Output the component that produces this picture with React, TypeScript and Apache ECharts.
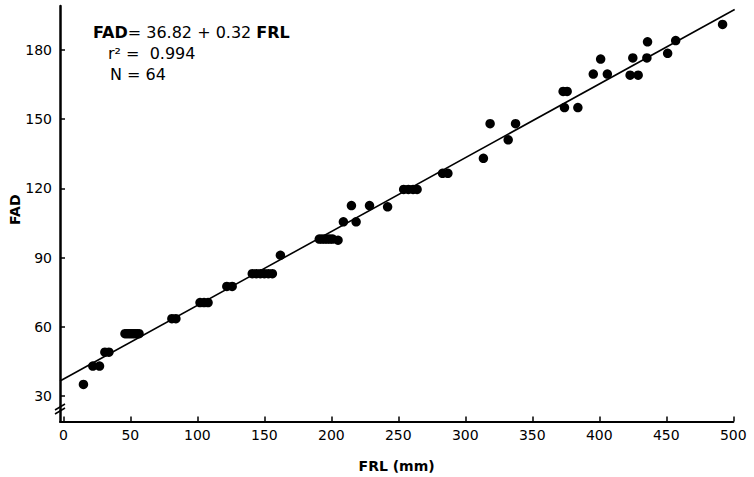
import React, { useEffect, useRef } from "react";
import * as echarts from "echarts";

// FRL (mm) values of the 64 fish
const frl = [
  15, 22, 27, 31, 34,
  46, 47.5, 49, 50.5, 52, 53.5, 55, 56.5,
  81, 84, 102, 105, 108, 122, 126,
  141, 144, 147, 150, 153, 156, 162,
  191, 193, 195, 197, 199, 201, 205,
  209, 215, 218.5, 228.5, 242,
  254, 257.5, 261, 264, 283, 287,
  313.5, 318.5, 332, 337.5,
  373, 376, 374, 384,
  395.5, 401, 406, 423, 429, 425, 435.5, 436, 451, 457, 492,
];
// FAD values (same order)
const fad = [
  35, 43, 43, 49, 49,
  57, 57, 57, 57, 57, 57, 57, 57,
  63.5, 63.5, 70.5, 70.5, 70.5, 77.5, 77.5,
  83, 83, 83, 83, 83, 83, 91,
  98, 98, 98, 98, 98, 98, 97.5,
  105.5, 112.5, 105.5, 112.5, 112,
  119.5, 119.5, 119.5, 119.5, 126.5, 126.5,
  133, 148, 141, 148,
  162, 162, 155, 155,
  169.5, 176, 169.5, 169, 169, 176.5, 176.5, 183.5, 178.5, 184, 191,
];
const xTicks = [0, 50, 100, 150, 200, 250, 300, 350, 400, 450, 500];
const yTicks = [30, 60, 90, 120, 150, 180];
// regression line end points
const fitX = [-2.5, 501];
const fitY = [36.5, 197.5];

const FONT = "DejaVu Sans";

export default function App() {
  const ref = useRef<HTMLDivElement>(null);
  useEffect(() => {
    const chart = echarts.init(ref.current!, null, { renderer: "svg" });
    chart.setOption({
      animation: false,
      backgroundColor: "#fff",
      grid: { left: 60, right: 20.7, top: 6, bottom: 55.6, containLabel: false, outerBoundsMode: "none" },
      xAxis: {
        type: "value",
        min: -2.5,
        max: 500,
        name: "FRL (mm)",
        nameLocation: "middle",
        nameGap: 38,
        nameMoveOverlap: false,
        nameTextStyle: { color: "#000", fontWeight: "bold", fontSize: 14, fontFamily: FONT },
        axisLine: { onZero: false, lineStyle: { color: "#000", width: 2 } },
        axisTick: { inside: true, length: 5, customValues: xTicks, lineStyle: { color: "#000", width: 1.5 } },
        axisLabel: { customValues: xTicks, color: "#000", fontSize: 14, margin: 7, fontFamily: FONT },
        splitLine: { show: false },
      },
      yAxis: {
        type: "value",
        min: 19,
        max: 199,
        name: "FAD",
        nameLocation: "middle",
        nameGap: 38,
        nameMoveOverlap: false,
        nameTextStyle: { color: "#000", fontWeight: "bold", fontSize: 14, fontFamily: FONT, padding: [0, 0, 0, 8] },
        axisLine: { show: true, onZero: false, lineStyle: { color: "#000", width: 2.5 } },
        axisTick: { show: true, inside: true, length: 5, customValues: yTicks, lineStyle: { color: "#000", width: 1.5 } },
        axisLabel: { customValues: yTicks, color: "#000", fontSize: 14, margin: 8, fontFamily: FONT },
        splitLine: { show: false },
      },
      series: [
        {
          type: "line",
          data: fitX.map((x, i) => [x, fitY[i]]),
          showSymbol: false,
          clip: false,
          lineStyle: { color: "#000", width: 1.6 },
          silent: true,
          z: 2,
        },
        {
          type: "scatter",
          data: frl.map((x, i) => [x, fad[i]]),
          symbol: "circle",
          symbolSize: 9.5,
          itemStyle: { color: "#000", opacity: 1 },
          z: 3,
        },
      ],
      graphic: [
        {
          type: "text",
          x: 93,
          y: 32,
          style: {
            text: "{b|FAD}= 36.82 + 0.32 {b|FRL}",
            fontSize: 16,
            fontFamily: FONT,
            fill: "#000",
            verticalAlign: "middle",
            rich: { b: { fontWeight: "bold", fontSize: 16, fontFamily: FONT } },
          },
        },
        {
          type: "text",
          x: 108,
          y: 53,
          style: { text: "r² =  0.994", fontSize: 16, fontFamily: FONT, fill: "#000", verticalAlign: "middle" },
        },
        {
          type: "text",
          x: 110,
          y: 74,
          style: { text: "N = 64", fontSize: 16, fontFamily: FONT, fill: "#000", verticalAlign: "middle" },
        },
        {
          type: "line",
          shape: { x1: 55, y1: 410, x2: 65, y2: 404 },
          style: { stroke: "#000", lineWidth: 1.5 },
        },
        {
          type: "line",
          shape: { x1: 55, y1: 414, x2: 65, y2: 408 },
          style: { stroke: "#000", lineWidth: 1.5 },
        },
      ],
    });
    return () => chart.dispose();
  }, []);
  return (
    <div
      ref={ref}
      style={{ position: "fixed", left: 0, top: 0, width: 754, height: 477, background: "#fff" }}
    />
  );
}
